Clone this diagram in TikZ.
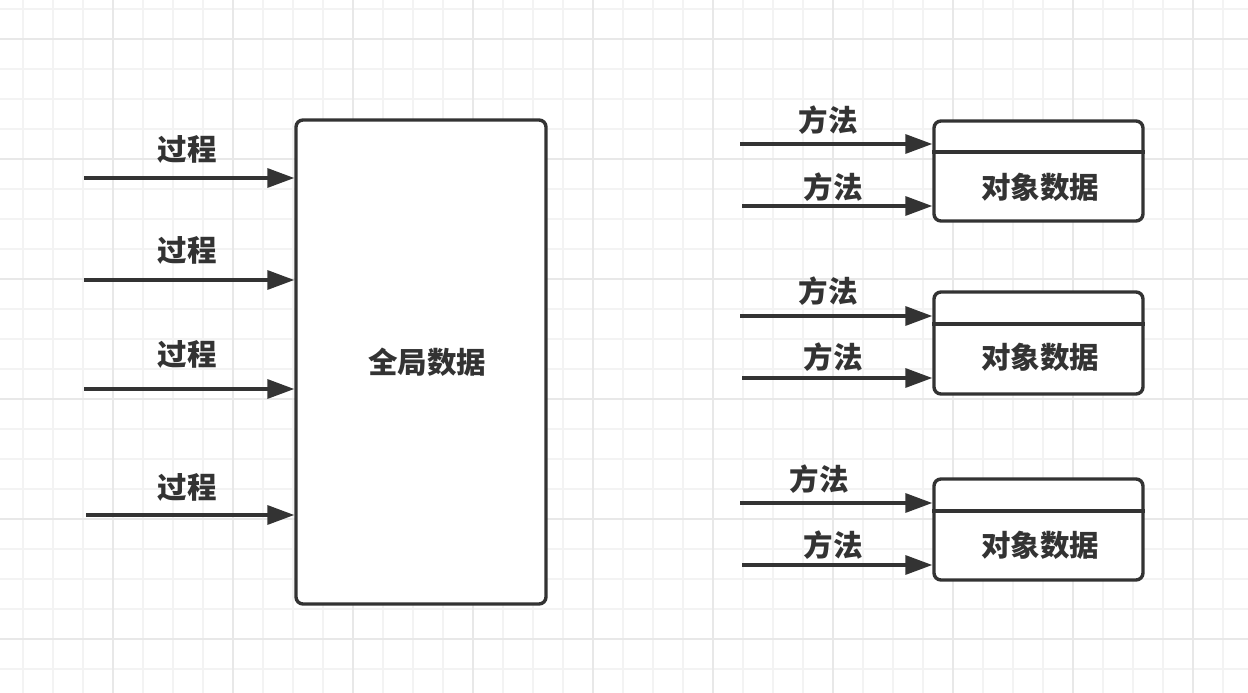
\documentclass[tikz,border=0pt]{standalone}
\usepackage{fontspec}
\newfontfamily\cjk{Noto Sans CJK SC}
\usetikzlibrary{arrows.meta}
\definecolor{ink}{HTML}{333333}
\definecolor{gminor}{HTML}{F3F3F3}
\definecolor{gmajor}{HTML}{E8E8E8}
\tikzset{
  gridminor/.style={gminor, line width=2pt},
  gridmajor/.style={gmajor, line width=2.2pt},
  box/.style={draw=ink, fill=white, line width=3.4pt, rounded corners=7pt, inner sep=0pt},
  lbl/.style={inner sep=0pt, text=ink, font=\cjk\bfseries\fontsize{29.5}{32}\selectfont},
  arr/.style={draw=ink, line width=3.4pt, -{Triangle[length=27pt, width=19pt]}},
  divline/.style={draw=ink, line width=3.4pt},
}
\begin{document}
\begin{tikzpicture}[x=1pt, y=-1pt]
\useasboundingbox (0,0) rectangle (1248,693);
\fill[white] (0,0) rectangle (1248,693);
% grid
\foreach \x in {23,53,...,1248} \draw[gridminor] (\x,0) -- (\x,693);
\foreach \y in {9,39,...,693} \draw[gridminor] (0,\y) -- (1248,\y);
\foreach \x in {113,233,...,1248} \draw[gridmajor] (\x,0) -- (\x,693);
\foreach \y in {39,159,...,693} \draw[gridmajor] (0,\y) -- (1248,\y);

% global data box
\node[box, minimum width=250pt, minimum height=484pt] (g) at (421,362) {};
\node[lbl] (gt) at (427,362) {全局数据};

% procedure arrows
\coordinate (p1) at (84,178);
\coordinate (p2) at (84,280);
\coordinate (p3) at (84,389);
\coordinate (p4) at (86,515);
\draw[arr] (p1) -- (p1 -| g.west);
\draw[arr] (p2) -- (p2 -| g.west);
\draw[arr] (p3) -- (p3 -| g.west);
\draw[arr] (p4) -- (p4 -| g.west);
\node[lbl] (l1) at (187,149) {过程};
\node[lbl] (l2) at (187,250) {过程};
\node[lbl] (l3) at (187,354) {过程};
\node[lbl] (l4) at (187,487) {过程};

% object boxes
\node[box, minimum width=209pt, minimum height=100pt] (o1) at (1038.5,171) {};
\node[box, minimum width=209pt, minimum height=102pt] (o2) at (1038.5,343) {};
\node[box, minimum width=209pt, minimum height=101pt] (o3) at (1038.5,529.5) {};
\coordinate (d1) at (0,152);
\coordinate (d2) at (0,324);
\coordinate (d3) at (0,511);
\draw[divline] (d1 -| o1.west) -- (d1 -| o1.east);
\draw[divline] (d2 -| o2.west) -- (d2 -| o2.east);
\draw[divline] (d3 -| o3.west) -- (d3 -| o3.east);
\node[lbl] (t1) at (1040,187) {对象数据};
\node[lbl] (t2) at (1040,357) {对象数据};
\node[lbl] (t3) at (1040,545) {对象数据};

% method arrows
\coordinate (m1a) at (740,144);
\coordinate (m1b) at (742,206);
\coordinate (m2a) at (740,316);
\coordinate (m2b) at (742,378);
\coordinate (m3a) at (740,503);
\coordinate (m3b) at (742,565);
\draw[arr] (m1a) -- (m1a -| o1.west);
\draw[arr] (m1b) -- (m1b -| o1.west);
\draw[arr] (m2a) -- (m2a -| o2.west);
\draw[arr] (m2b) -- (m2b -| o2.west);
\draw[arr] (m3a) -- (m3a -| o3.west);
\draw[arr] (m3b) -- (m3b -| o3.west);
\node[lbl] (ma1) at (828,120) {方法};
\node[lbl] (mb1) at (833,187) {方法};
\node[lbl] (ma2) at (828,291) {方法};
\node[lbl] (mb2) at (833,357) {方法};
\node[lbl] (ma3) at (819,479) {方法};
\node[lbl] (mb3) at (833,545) {方法};
\end{tikzpicture}
\end{document}
